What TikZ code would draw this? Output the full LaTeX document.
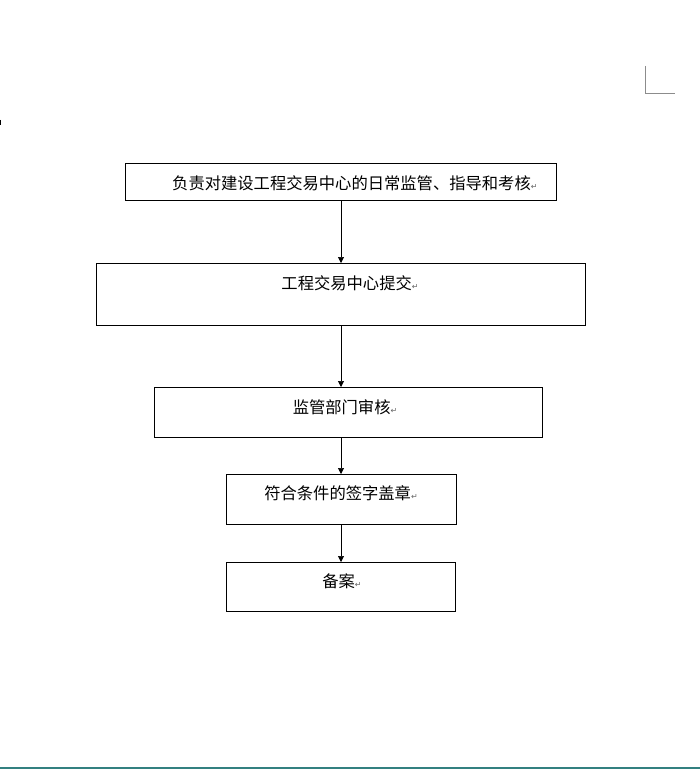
\documentclass[tikz,border=0pt]{standalone}
\usepackage{fontspec}
\newfontfamily\cjk{Noto Sans CJK SC}
\newfontfamily\dvs{DejaVu Sans}
\usetikzlibrary{arrows.meta}
\newcommand{\pmark}{{\dvs\fontsize{8}{8}\selectfont\color{black!60}↵}}
\begin{document}
\begin{tikzpicture}[x=1pt,y=-1pt,
    every node/.style={font=\cjk\fontsize{16.3}{18}\selectfont,inner sep=0pt},
    box/.style={draw=black,line width=0.6pt},
    arr/.style={-{Triangle[length=6pt,width=6pt]},line width=0.6pt}]
  \useasboundingbox (0,0) rectangle (700,770);
  % boxes
  \draw[box] (125,163) rectangle (556,200); \coordinate (b1s) at (341,200);
  \draw[box] (96,263) rectangle (585,325); \coordinate (b2n) at (341,263);
  \coordinate (b2s) at (341,325);
  \draw[box] (154,387) rectangle (542,437); \coordinate (b3n) at (341,387);
  \coordinate (b3s) at (341,437);
  \draw[box] (226,474) rectangle (456,524); \coordinate (b4n) at (341,474);
  \coordinate (b4s) at (341,524);
  \draw[box] (226,562) rectangle (455,611); \coordinate (b5n) at (341,562);
  % texts
  \node[anchor=west] (t1) at (172,183) {负责对建设工程交易中心的日常监管、指导和考核\pmark};
  \node (t2) at (350,283) {工程交易中心提交\pmark};
  \node (t3) at (345,407) {监管部门审核\pmark};
  \node (t4) at (341,493) {符合条件的签字盖章\pmark};
  \node (t5) at (342,581) {备案\pmark};
  % arrows
  \draw[arr] (b1s) -- (b2n);
  \draw[arr] (b2s) -- (b3n);
  \draw[arr] (b3s) -- (b4n);
  \draw[arr] (b4s) -- (b5n);
  % page marks
  \draw[black!45,line width=0.6pt] (645,66) -- (645,93) -- (675,93);
  \draw[black,line width=0.8pt] (0,120) -- (0,125);
  \draw[teal!60!gray,line width=1.5pt] (0,768) -- (700,768);
\end{tikzpicture}
\end{document}
